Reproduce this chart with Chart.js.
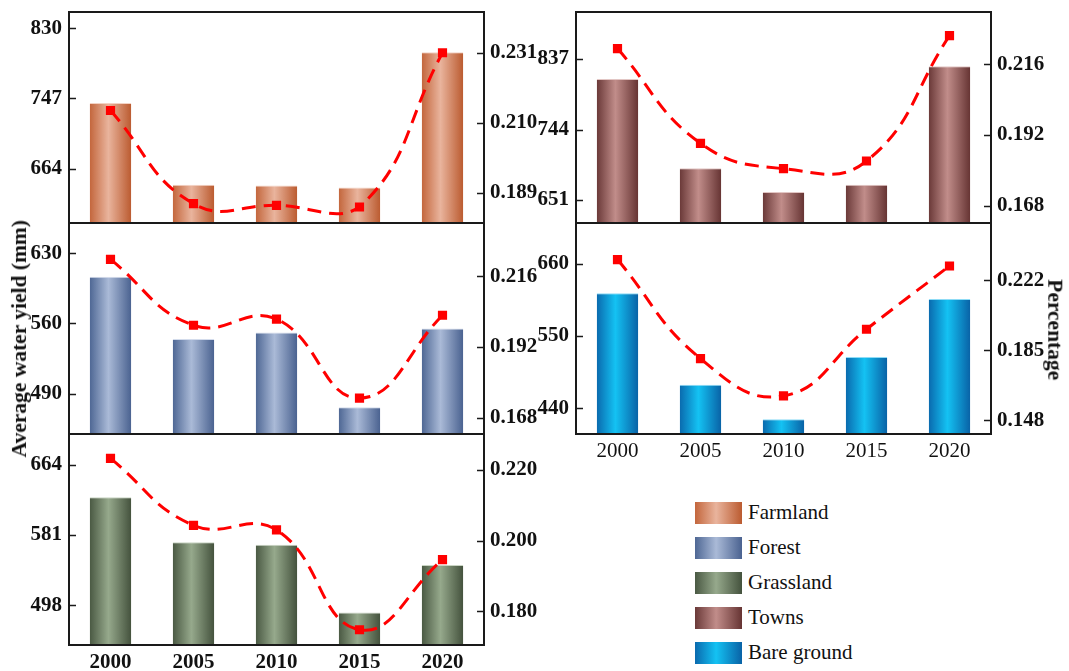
<!DOCTYPE html>
<html>
<head>
<meta charset="utf-8">
<script src="https://cdn.jsdelivr.net/npm/chart.js@4"></script>
<style>
  html, body { margin: 0; padding: 0; background: #fff; }
  #stage { position: relative; width: 1069px; height: 671px; overflow: hidden; font-family: 'Liberation Serif', 'Times New Roman', serif; color: #111; }
  #stage canvas { position: absolute; }
  .axis-title { position: absolute; font-weight: bold; font-size: 21.5px; white-space: nowrap; line-height: 1; }
  .legend { position: absolute; left: 695px; top: 495px; }
  .legend-item { display: flex; align-items: center; height: 35px; }
  .legend-item .sw { width: 47px; height: 22px; margin-right: 6px; }
  .legend-item span { font-size: 21px; }
</style>
</head>
<body>
<div id="stage"></div>
<script>
// Years on the category axis
const years = ['2000', '2005', '2010', '2015', '2020'];

// Average water yield (mm) per land-use type
const farmlandYield  = [741.6, 645.0, 644.0, 641.5, 801.7];
const forestYield    = [606.5, 544.5, 551.0, 476.5, 555.0];
const grasslandYield = [625.3, 572.4, 569.3, 489.4, 545.4];
const townsYield     = [810.6, 693.0, 661.6, 671.3, 827.4];
const bareYield      = [615.0, 475.8, 423.3, 518.0, 606.0];

// Share of total water yield (percentage, as fraction)
const farmlandShare  = [0.2137, 0.1858, 0.1853, 0.1848, 0.2310];
const forestShare    = [0.2218, 0.1994, 0.2015, 0.1746, 0.2028];
const grasslandShare = [0.2232, 0.2043, 0.2030, 0.1748, 0.1946];
const townsShare     = [0.2213, 0.1892, 0.1806, 0.1832, 0.2257];
const bareShare      = [0.2329, 0.1806, 0.1609, 0.1961, 0.2295];

// Tick labels shown on each axis
const farmlandYieldTicks  = ['664', '747', '830'];
const farmlandShareTicks  = ['0.189', '0.210', '0.231'];
const forestYieldTicks    = ['490', '560', '630'];
const forestShareTicks    = ['0.168', '0.192', '0.216'];
const grasslandYieldTicks = ['498', '581', '664'];
const grasslandShareTicks = ['0.180', '0.200', '0.220'];
const townsYieldTicks     = ['651', '744', '837'];
const townsShareTicks     = ['0.168', '0.192', '0.216'];
const bareYieldTicks      = ['440', '550', '660'];
const bareShareTicks      = ['0.148', '0.185', '0.222'];

const legendNames = ['Farmland', 'Forest', 'Grassland', 'Towns', 'Bare ground'];

// Bar shading: [edge, highlight, far edge, top rim]
const shades = {
  Farmland:      ['#c3663c', '#e9b49d', '#bb5b30', '#f3d2c4'],
  Forest:        ['#4e6794', '#aabad7', '#4a6290', '#d3dcec'],
  Grassland:     ['#4a5943', '#96a98c', '#44523d', '#c9d4c3'],
  Towns:         ['#6a3938', '#c18d8a', '#663433', '#e2c6c4'],
  'Bare ground': ['#0a6aae', '#14c2f3', '#0962a6', '#8fdcf6']
};

const FONT = "'Liberation Serif', 'Times New Roman', serif";
const TICK_SIZE = 21;
const SIDE = 70;   // width reserved for each vertical axis
const PADV = 14;   // spare room above/below a plot

const panels = [
  { name: 'Farmland', yieldData: farmlandYield, shareData: farmlandShare,
    yTicks: farmlandYieldTicks, sTicks: farmlandShareTicks,
    yRange: [599.6, 849.3], sRange: [0.1800, 0.2432],
    rect: { x: 69, y: 12, w: 415, h: 211 }, xLabels: null },
  { name: 'Forest', yieldData: forestYield, shareData: forestShare,
    yTicks: forestYieldTicks, sTicks: forestShareTicks,
    yRange: [450, 660], sRange: [0.1624, 0.2342],
    rect: { x: 69, y: 223, w: 415, h: 211 }, xLabels: null },
  { name: 'Grassland', yieldData: grasslandYield, shareData: grasslandShare,
    yTicks: grasslandYieldTicks, sTicks: grasslandShareTicks,
    yRange: [451, 700], sRange: [0.1705, 0.2301],
    rect: { x: 69, y: 434, w: 415, h: 211 }, xLabels: 'bold' },
  { name: 'Towns', yieldData: townsYield, shareData: townsShare,
    yTicks: townsYieldTicks, sTicks: townsShareTicks,
    yRange: [620.7, 899], sRange: [0.1622, 0.2337],
    rect: { x: 576, y: 12, w: 415, h: 211 }, xLabels: null },
  { name: 'Bare ground', yieldData: bareYield, shareData: bareShare,
    yTicks: bareYieldTicks, sTicks: bareShareTicks,
    yRange: [401, 721.6], sRange: [0.1408, 0.2522],
    rect: { x: 576, y: 223, w: 415, h: 211 }, xLabels: 'normal' }
];

// Frame around the plot and short inward tick marks on both value axes
const framePlugin = {
  id: 'frame',
  afterDraw(chart) {
    const { ctx, chartArea: a, scales } = chart;
    ctx.save();
    ctx.strokeStyle = '#1a1a1a';
    ctx.lineWidth = 2;
    ctx.strokeRect(a.left, a.top, a.right - a.left, a.bottom - a.top);
    ctx.lineWidth = 1.5;
    ctx.beginPath();
    scales.y.ticks.forEach(t => {
      const py = Math.round(scales.y.getPixelForValue(t.value)) + 0.5;
      ctx.moveTo(a.left, py); ctx.lineTo(a.left + 7, py);
    });
    scales.y1.ticks.forEach(t => {
      const py = Math.round(scales.y1.getPixelForValue(t.value)) + 0.5;
      ctx.moveTo(a.right - 7, py); ctx.lineTo(a.right, py);
    });
    ctx.stroke();
    ctx.restore();
  }
};

const stage = document.getElementById('stage');

panels.forEach(p => {
  const bottomRoom = p.xLabels ? 34 : PADV;
  const canvas = document.createElement('canvas');
  const cw = SIDE + p.rect.w + SIDE;
  const ch = PADV + p.rect.h + bottomRoom;
  canvas.style.left = (p.rect.x - SIDE) + 'px';
  canvas.style.top = (p.rect.y - PADV) + 'px';
  canvas.style.width = cw + 'px';
  canvas.style.height = ch + 'px';
  canvas.width = cw; canvas.height = ch;
  stage.appendChild(canvas);

  const shade = shades[p.name];
  const barFill = (c) => {
    const chart = c.chart;
    if (!chart.chartArea || c.dataIndex === undefined) return shade[0];
    const xs = chart.scales.x;
    const cx = xs.getPixelForValue(c.dataIndex);
    const half = (xs.width / years.length) * 0.5 / 2;
    const g = chart.ctx.createLinearGradient(cx - half, 0, cx + half, 0);
    g.addColorStop(0, shade[0]);
    g.addColorStop(0.45, shade[1]);
    g.addColorStop(1, shade[2]);
    return g;
  };

  new Chart(canvas, {
    data: {
      labels: years,
      datasets: [
        {
          type: 'line', label: p.name + ' share', data: p.shareData, yAxisID: 'y1', order: 0,
          borderColor: '#ff0000', borderWidth: 3, borderDash: [14, 8], tension: 0.45,
          pointStyle: 'rect', pointRadius: 6.5, pointBorderWidth: 0,
          pointBackgroundColor: '#ff0000', fill: false
        },
        {
          type: 'bar', label: p.name, data: p.yieldData, yAxisID: 'y', order: 1,
          backgroundColor: barFill,
          borderColor: shade[3],
          borderWidth: { top: 1, left: 0, right: 0, bottom: 0 },
          borderSkipped: 'start',
          barPercentage: 0.5, categoryPercentage: 1.0
        }
      ]
    },
    options: {
      responsive: false,
      animation: false,
      events: [],
      layout: { padding: { top: PADV, bottom: p.xLabels ? 0 : PADV, left: 0, right: 0 } },
      plugins: { legend: { display: false }, tooltip: { enabled: false } },
      scales: {
        x: {
          type: 'category', offset: true,
          display: !!p.xLabels,
          grid: { display: false, drawTicks: false },
          border: { display: false },
          ticks: {
            color: '#111', padding: 5, maxRotation: 0,
            font: { family: FONT, size: TICK_SIZE, weight: p.xLabels === 'bold' ? 'bold' : 'normal' }
          },
          afterFit: s => {
            s.height = p.xLabels ? 34 : 0;
            s.paddingLeft = 0; s.paddingRight = 0;
          }
        },
        y: {
          type: 'linear', position: 'left',
          min: p.yRange[0], max: p.yRange[1],
          grid: { display: false, drawTicks: false },
          border: { display: false },
          afterBuildTicks: s => { s.ticks = p.yTicks.map(v => ({ value: Number(v) })); },
          ticks: {
            color: '#111', padding: 7,
            font: { family: FONT, size: TICK_SIZE, weight: 'bold' },
            callback: (v, i) => p.yTicks[i]
          },
          afterFit: s => { s.width = SIDE; s.paddingTop = 0; s.paddingBottom = 0; }
        },
        y1: {
          type: 'linear', position: 'right',
          min: p.sRange[0], max: p.sRange[1],
          grid: { display: false, drawTicks: false },
          border: { display: false },
          afterBuildTicks: s => { s.ticks = p.sTicks.map(v => ({ value: Number(v) })); },
          ticks: {
            color: '#111', padding: 6,
            font: { family: FONT, size: TICK_SIZE, weight: 'bold' },
            callback: (v, i) => p.sTicks[i]
          },
          afterFit: s => { s.width = SIDE; s.paddingTop = 0; s.paddingBottom = 0; }
        }
      }
    },
    plugins: [framePlugin]
  });
});

// Axis titles
const yTitle = document.createElement('div');
yTitle.className = 'axis-title';
yTitle.textContent = 'Average water yield (mm)';
stage.appendChild(yTitle);
yTitle.style.left = (19 - yTitle.offsetWidth / 2) + 'px';
yTitle.style.top = (339 - yTitle.offsetHeight / 2) + 'px';
yTitle.style.transform = 'rotate(-90deg)';

const sTitle = document.createElement('div');
sTitle.className = 'axis-title';
sTitle.textContent = 'Percentage';
stage.appendChild(sTitle);
sTitle.style.left = (1054 - sTitle.offsetWidth / 2) + 'px';
sTitle.style.top = (330 - sTitle.offsetHeight / 2) + 'px';
sTitle.style.transform = 'rotate(90deg)';

// Legend of land-use types
const legend = document.createElement('div');
legend.className = 'legend';
legendNames.forEach(n => {
  const s = shades[n];
  const item = document.createElement('div');
  item.className = 'legend-item';
  const sw = document.createElement('div');
  sw.className = 'sw';
  sw.style.background = `linear-gradient(to right, ${s[0]} 0%, ${s[1]} 45%, ${s[2]} 100%)`;
  const label = document.createElement('span');
  label.textContent = n;
  item.appendChild(sw);
  item.appendChild(label);
  legend.appendChild(item);
});
stage.appendChild(legend);
</script>
</body>
</html>
